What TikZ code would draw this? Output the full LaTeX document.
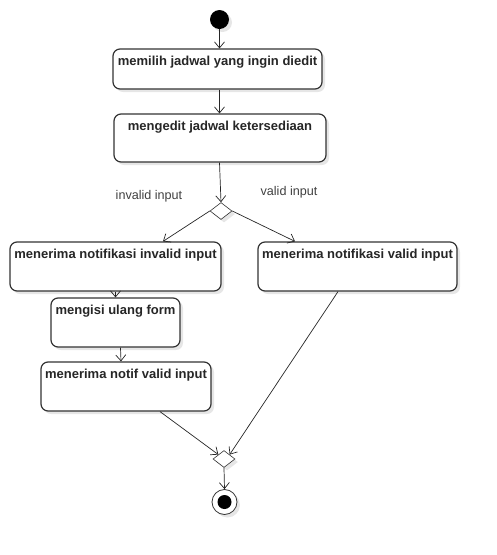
\documentclass[tikz,border=0pt]{standalone}
\usepackage{fontspec}
\setmainfont{Liberation Sans}
\usetikzlibrary{
	shapes.geometric,   %belah ketupat
	calc,               %hitung koordinat
	positioning,
	arrows.meta,        %ujung panah
	shadows             %bayangan
}
\definecolor{garis}{HTML}{333333}
\definecolor{bayang}{HTML}{E6E6E6}
\tikzset{
	every picture/.style={
		>={Straight Barb[length=6pt,width=10pt]},
		x=1pt, y=-1pt
}}
\tikzset{
	bayangan/.style={drop shadow={shadow xshift=3pt,shadow yshift=-3pt,fill=bayang,opacity=1}},
	aktivitas/.style 2 args={draw=garis, line width=1.2pt, rounded corners=7pt,
		fill=white, bayangan, inner sep=0pt, minimum width=#1,
		text height=16pt, text depth=#2, text=black!85,
		font=\fontsize{13}{15}\selectfont\bfseries},
	keputusan/.style={diamond, draw=black!80, line width=0.6pt, fill=white,
		bayangan, inner sep=0pt, minimum width=22pt, minimum height=17pt},
	panah/.style={draw=black!85, line width=0.7pt, ->},
	ket/.style={text=black!75, font=\fontsize{12.6}{15}\selectfont}
}

\begin{document}
\begin{tikzpicture}
\useasboundingbox (0,0) rectangle (497,555);
\node[circle, fill=black, minimum size=19pt, inner sep=0pt, bayangan] (mulai) at (219.5,19.5) {};
\node[aktivitas={209pt}{24pt}] (pilih) at (217.5,69) {memilih jadwal yang ingin diedit};
\node[aktivitas={212pt}{32pt}] (edit) at (220,138) {mengedit jadwal ketersediaan};
\node[keputusan] (cabang) at (221,211) {};
\node[ket] (lblgagal) at (149,196) {invalid input};
\node[ket] (lblvalid) at (289,192) {valid input};
\node[aktivitas={211pt}{33pt}] (gagal) at (115.5,266.5) {menerima notifikasi invalid input};
\node[aktivitas={199pt}{33pt}] (valid) at (357.5,266.5) {menerima notifikasi valid input};
\node[aktivitas={129pt}{33pt}] (isi) at (115.5,322.5) {mengisi ulang form};
\node[aktivitas={170pt}{33pt}] (notif) at (126,386.5) {menerima notif valid input};
\node[keputusan] (gabung) at (224,459) {};
\node[circle, draw=garis, line width=0.8pt, fill=white, minimum size=25pt, inner sep=0pt, bayangan] (selesai) at (224.5,502) {};
\node[circle, fill=black, minimum size=14pt, inner sep=0pt] (titik) at (selesai) {};

\draw[panah] (mulai) -- (mulai |- pilih.north);
\draw[panah] (mulai |- pilih.south) -- (mulai |- edit.north);
\draw[panah] (mulai |- edit.south) -- (cabang.north);
\draw[panah] (cabang.west) -- ($(gagal.north)+(47.5pt,0)$);
\draw[panah] (cabang.east) -- ($(valid.north)+(-62.5pt,0)$);
\draw[panah] (gagal.south) -- (isi.north);
\draw[panah] ($(isi.south)+(5pt,0)$) -- ($(notif.north)+(-5pt,0)$);
\draw[panah] ($(notif.south)+(34pt,0)$) -- (gabung.north west);
\draw[panah] ($(valid.south)+(-19.5pt,0)$) -- (gabung.north east);
\draw[panah] (gabung.south) -- (selesai.north);
\end{tikzpicture}
\end{document}
